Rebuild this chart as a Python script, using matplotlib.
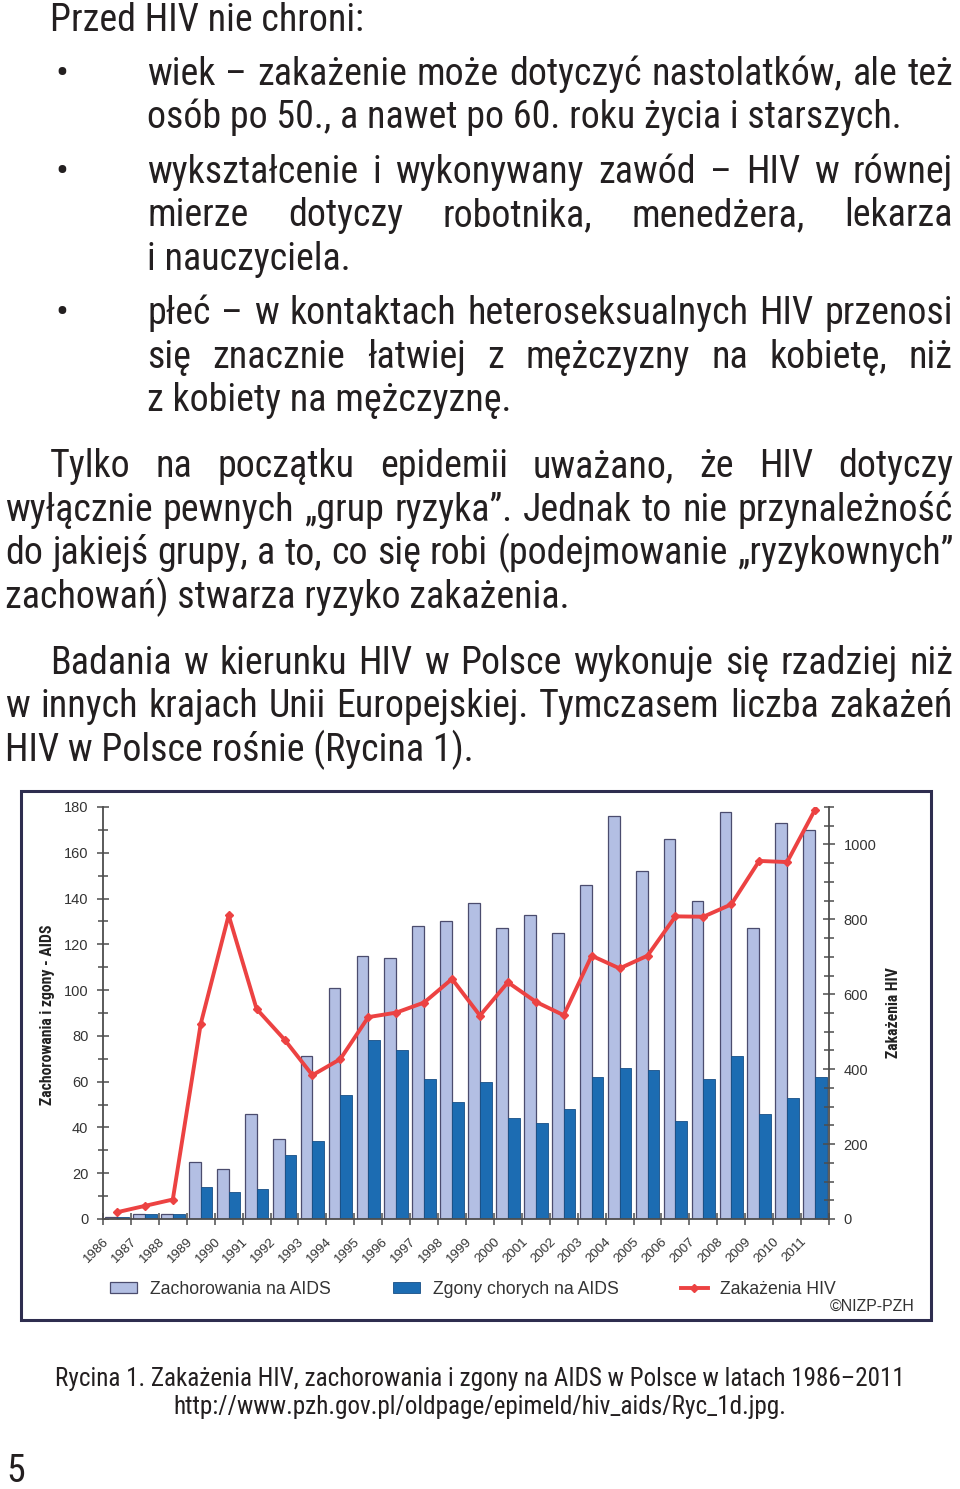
import matplotlib
matplotlib.use("Agg")
import matplotlib.pyplot as plt
from matplotlib import font_manager
from matplotlib.patches import Rectangle, Patch
from matplotlib.lines import Line2D
import matplotlib.transforms as mtransforms
from matplotlib.ticker import MultipleLocator

# ---------------- data ----------------
years = list(range(1986, 2012))
year_labels = [str(y) for y in years]
aids_cases = [1, 2, 2, 25, 22, 46, 35, 71, 101, 115, 114, 128, 130, 138,
              127, 133, 125, 146, 176, 152, 166, 139, 178, 127, 173, 170]
aids_deaths = [1, 2, 2, 14, 12, 13, 28, 34, 54, 78, 74, 61, 51, 60,
               44, 42, 48, 62, 66, 65, 43, 61, 71, 46, 53, 62]
hiv_infections = [18, 35, 52, 521, 811, 561, 479, 384, 427, 539, 551, 578, 641, 543,
                  632, 580, 544, 703, 669, 703, 808, 807, 840, 956, 953, 1093]
legend_labels = ["Zachorowania na AIDS", "Zgony chorych na AIDS", "Zakażenia HIV"]
left_label = "Zachorowania i zgony - AIDS"
right_label = "Zakażenia HIV"

W, H = 960, 1489
available = {f.name for f in font_manager.fontManager.ttflist}
def pick(cands):
    for c in cands:
        if c in available:
            return [c, "DejaVu Sans"]
    return ["DejaVu Sans"]

NARROW = pick(["Liberation Sans Narrow", "Roboto Condensed", "Liberation Sans"])
ARIAL = pick(["Liberation Sans", "Arimo", "DejaVu Sans"])

fig = plt.figure(figsize=(W / 100, H / 100), dpi=100)
fig.patch.set_facecolor("white")
renderer = fig.canvas.get_renderer()

def fx(x):
    return x / W

def fy(y):
    return 1 - y / H

def width_of(s, size, fam, weight="normal"):
    t = fig.text(0, 0, s, fontsize=size, family=fam, fontweight=weight)
    w = t.get_window_extent(renderer).width
    t.remove()
    return w

# ---------------- body text ----------------
ref_line = "zachowań) stwarza ryzyko zakażenia."
BODY = 20 * 563 / width_of(ref_line, 20, NARROW)
TXT = "#231f20"

body_lines = [
    # text, x0, baseline, justified
    ("Przed HIV nie chroni:", 50, 31, False),
    ("wiek – zakażenie może dotyczyć nastolatków, ale też", 147, 85, True),
    ("osób po 50., a nawet po 60. roku życia i starszych.", 147, 128, False),
    ("wykształcenie i wykonywany zawód –  HIV w równej", 147, 183, True),
    ("mierze dotyczy robotnika, menedżera, lekarza", 147, 226, True),
    ("i nauczyciela.", 147, 270, False),
    ("płeć – w kontaktach heteroseksualnych HIV przenosi", 147, 324, True),
    ("się znacznie łatwiej z mężczyzny na kobietę, niż", 147, 368, True),
    ("z kobiety na mężczyznę.", 147, 411, False),
    ("Tylko na początku epidemii uważano, że HIV dotyczy", 50, 477, True),
    ("wyłącznie pewnych „grup ryzyka”. Jednak to nie przynależność", 5, 521, True),
    ("do jakiejś grupy, a to, co się robi (podejmowanie „ryzykownych”", 5, 564, True),
    ("zachowań) stwarza ryzyko zakażenia.", 5, 608, False),
    ("Badania w kierunku HIV w Polsce wykonuje się rzadziej niż", 50, 674, True),
    ("w innych krajach Unii Europejskiej. Tymczasem liczba zakażeń", 5, 717, True),
    ("HIV w Polsce rośnie (Rycina 1).", 5, 761, False),
]
bullet_baselines = [85, 183, 324]
X_RIGHT = 953

for text, x0, base, just in body_lines:
    if not just:
        fig.text(fx(x0), fy(base), text, fontsize=BODY, family=NARROW,
                 color=TXT, va="baseline", ha="left")
        continue
    words = text.split()
    widths = [width_of(w, BODY, NARROW) for w in words]
    gap = (X_RIGHT - x0 - sum(widths)) / (len(words) - 1)
    x = x0
    for w, wd in zip(words, widths):
        fig.text(fx(x), fy(base), w, fontsize=BODY, family=NARROW,
                 color=TXT, va="baseline", ha="left")
        x += wd + gap

for b in bullet_baselines:
    fig.text(fx(62), fy(b), "•", fontsize=BODY, family=NARROW, color=TXT,
             va="baseline", ha="center")

# ---------------- caption ----------------
cap1 = "Rycina 1. Zakażenia HIV, zachorowania i zgony na AIDS w Polsce w latach 1986–2011"
cap2 = "http://www.pzh.gov.pl/oldpage/epimeld/hiv_aids/Ryc_1d.jpg."
CAP = 14 * 853 / width_of(cap1, 14, NARROW)
fig.text(fx(480), fy(1386), cap1, fontsize=CAP, family=NARROW, color=TXT,
         ha="center", va="baseline")
fig.text(fx(480), fy(1414), cap2, fontsize=CAP, family=NARROW, color=TXT,
         ha="center", va="baseline")
fig.text(fx(6), fy(1472), "5", fontsize=BODY, family=NARROW, color=TXT,
         ha="left", va="center")

# ---------------- chart frame ----------------
frame = Rectangle((fx(21), fy(1320)), fx(931) - fx(21), fy(791) - fy(1320),
                  transform=fig.transFigure, fill=False, edgecolor="#2e2d4f",
                  linewidth=2.2, zorder=0)
fig.patches.append(frame)

# ---------------- chart ----------------
AX_L, AX_R, AX_T, AX_B = 103, 829, 807, 1219
ax = fig.add_axes([fx(AX_L), fy(AX_B), (AX_R - AX_L) / W, (AX_B - AX_T) / H])
ax2 = ax.twinx()

LIGHT = "#b3bfe3"
LIGHT_EDGE = "#4b4c6e"
DARK = "#1c6cb2"
DARK_EDGE = "#174f86"
RED = "#ec4242"
AXC = "#4d4d4d"

x = list(range(len(years)))
bw = 0.42
ax.bar(x, aids_cases, width=-bw, align="edge", color=LIGHT,
       edgecolor=LIGHT_EDGE, linewidth=0.9, zorder=2)
ax.bar(x, aids_deaths, width=bw, align="edge", color=DARK,
       edgecolor=DARK_EDGE, linewidth=0.6, zorder=2)
ax2.plot(x, hiv_infections, color=RED, linewidth=2.8, marker="D",
         markersize=4.5, markerfacecolor=RED, markeredgecolor=RED, zorder=3)

ax.set_xlim(-0.5, len(years) - 0.5)
ax.set_ylim(0, 180)
ax2.set_ylim(0, 1100)

for a in (ax, ax2):
    a.spines["top"].set_visible(False)
    a.set_facecolor("none")
ax.spines["left"].set_color(AXC)
ax.spines["bottom"].set_color(AXC)
ax.spines["right"].set_visible(False)
ax2.spines["left"].set_visible(False)
ax2.spines["bottom"].set_visible(False)
ax2.spines["right"].set_color(AXC)
for s in ("left", "bottom"):
    ax.spines[s].set_linewidth(1.3)
ax2.spines["right"].set_linewidth(1.3)

ax.yaxis.set_major_locator(MultipleLocator(20))
ax.yaxis.set_minor_locator(MultipleLocator(10))
ax2.yaxis.set_major_locator(MultipleLocator(200))
ax2.yaxis.set_minor_locator(MultipleLocator(50))
ax.tick_params(axis="y", which="major", direction="inout", length=9, width=1.1,
               color=AXC, pad=6, labelsize=10.5, labelcolor="#333333")
ax.tick_params(axis="y", which="minor", direction="inout", length=7, width=1.1, color=AXC)
ax2.tick_params(axis="y", which="major", direction="inout", length=9, width=1.1,
                color=AXC, pad=6, labelsize=10.5, labelcolor="#333333")
ax2.tick_params(axis="y", which="minor", direction="inout", length=7, width=1.1, color=AXC)
for lab in ax.get_yticklabels() + ax2.get_yticklabels():
    lab.set_family(ARIAL)

# x ticks at category boundaries, labels below the category centres
ax.set_xticks([i - 0.5 for i in range(len(years) + 1)])
ax.set_xticklabels([])
ax.tick_params(axis="x", which="major", direction="inout", length=8, width=1.1, color=AXC)
xtr = mtransforms.blended_transform_factory(ax.transData, ax.transAxes)
for i, lab in enumerate(year_labels):
    ax.text(i - 0.36, -0.05, lab, transform=xtr, rotation=45,
            rotation_mode="anchor", ha="right", va="center",
            fontsize=9.6, family=ARIAL, color="#333333")

fig.text(fx(48), fy(1015), left_label, rotation=90, ha="center", va="center",
         fontsize=11.3, fontweight="bold", family=NARROW, color="#222222")
fig.text(fx(894), fy(1013), right_label, rotation=90, ha="center", va="center",
         fontsize=11.3, fontweight="bold", family=NARROW, color="#222222")

# ---------------- legend ----------------
handles = [
    Patch(facecolor=LIGHT, edgecolor=LIGHT_EDGE, linewidth=0.9),
    Patch(facecolor=DARK, edgecolor=DARK_EDGE, linewidth=0.6),
    Line2D([0], [0], color=RED, linewidth=2.8, marker="D", markersize=4,
           markerfacecolor=RED, markeredgecolor=RED),
]
LEG = 11 * 180 / width_of(legend_labels[0], 11, ARIAL)
LPX = LEG * 100 / 72
fig.legend(handles, legend_labels, loc="center left",
           bbox_to_anchor=(fx(110), fy(1289)), ncol=3, frameon=False,
           borderpad=0, borderaxespad=0, handlelength=27 / LPX,
           handleheight=0.6, handletextpad=13 / LPX,
           columnspacing=62 / LPX,
           prop={"family": ARIAL, "size": LEG})
for t in fig.legends[0].get_texts():
    t.set_color("#333333")

CPY = 10 * 85 / width_of("©NIZP-PZH", 10, ARIAL)
fig.text(fx(915), fy(1311), "©NIZP-PZH", ha="right", va="baseline",
         fontsize=CPY, family=ARIAL, color="#333333")

fig.savefig("out.png", dpi=100, facecolor="white")
